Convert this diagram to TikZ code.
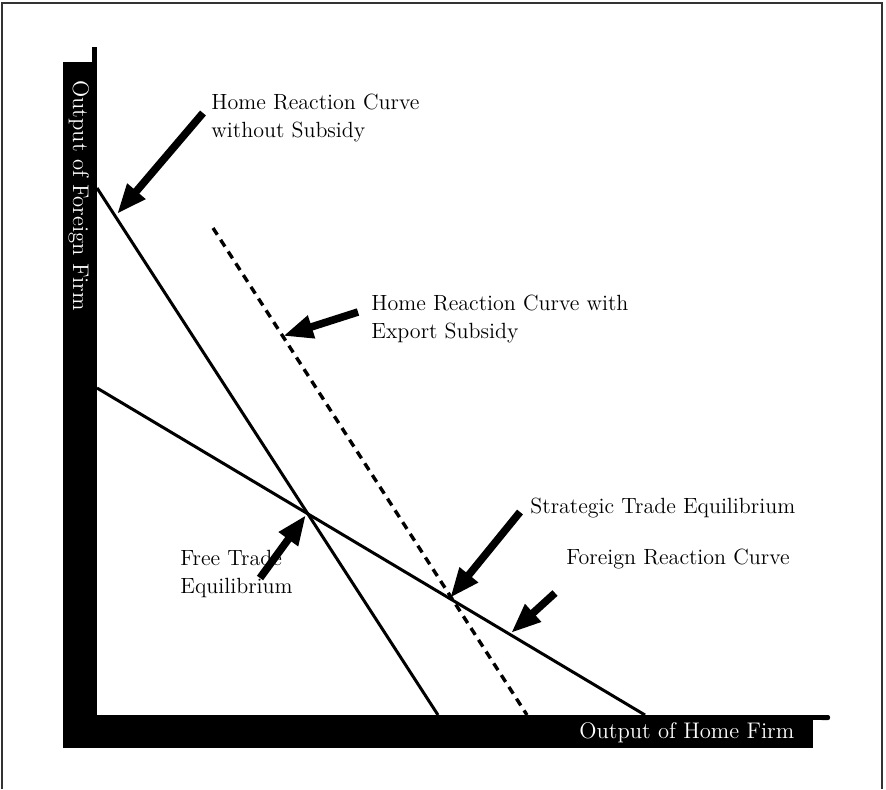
\documentclass[tikz,border=0pt]{standalone}
\usetikzlibrary{arrows.meta}
\begin{document}
\begin{tikzpicture}[x=0.5pt,y=-0.5pt,
  frameline/.style={draw=black!80,line width=0.6pt},
  curve/.style={line width=1.5pt},
  subsidycurve/.style={line width=1.7pt,dash pattern=on 4pt off 3pt},
  pointer/.style={line width=3.8pt,-{Triangle[length=15pt,width=11pt]}},
  lbl/.style={anchor=base west,inner sep=0pt,font=\fontsize{11}{13}\selectfont},
  axislbl/.style={anchor=base west,inner sep=0pt,text=white,font=\fontsize{11.3}{13}\selectfont}]
\useasboundingbox (0,0) rectangle (886,789);

% open frame round the figure
\draw[frameline] (2,789) -- (2,3) -- (882,3) -- (882,789);

% axes: thin lines with black label bars
\fill (92,47) rectangle (97,720);
\fill (63,62) rectangle (97,748);
\fill (63,715) rectangle (828,720);
\fill[rounded corners=1pt] (820,715) rectangle (830,720);
\fill (63,715) rectangle (813,748);
\node[axislbl,rotate=-90] (ylab) at (73,80) {Output of Foreign Firm};
\node[axislbl] (xlab) at (579,738) {Output of Home Firm};

% reaction curves
\coordinate (hA) at (97,188);  \coordinate (hB) at (438,715);
\coordinate (dA) at (213,228); \coordinate (dB) at (527,715);
\coordinate (fA) at (97,388);  \coordinate (fB) at (645,715);
\draw[curve] (hA) -- (hB);
\draw[subsidycurve] (dA) -- (dB);
\draw[curve] (fA) -- (fB);

% equilibria and pointed spots on the curves
\coordinate (fte) at (306,515);
\coordinate (ste) at (450,598);
\coordinate (hP) at (117,214);
\coordinate (dP) at (283,336);
\coordinate (fP) at (511,633);

% labels (base anchor sits on the last line)
\node[lbl,align=left] (l1) at (211,137) {Home Reaction Curve\\[1pt]without Subsidy};
\node[lbl,align=left] (l2) at (371,338) {Home Reaction Curve with\\[1pt]Export Subsidy};
\node[lbl] (l3) at (530,513) {Strategic Trade Equilibrium};
\node[lbl] (l4) at (566,564) {Foreign Reaction Curve};
\node[lbl,align=left] (l5) at (180,593) {Free Trade\\[1pt]Equilibrium};

% pointer arrows
\coordinate (t1) at (203,113);
\coordinate (t2) at (358,312);
\coordinate (t3) at (260,578);
\coordinate (t4) at (520,512);
\coordinate (t5) at (555,593);
\draw[pointer] (t1) -- (hP);
\draw[pointer] (t2) -- (dP);
\draw[pointer] (t3) -- (fte);
\draw[pointer] (t4) -- (ste);
\draw[pointer] (t5) -- (fP);
\end{tikzpicture}
\end{document}
